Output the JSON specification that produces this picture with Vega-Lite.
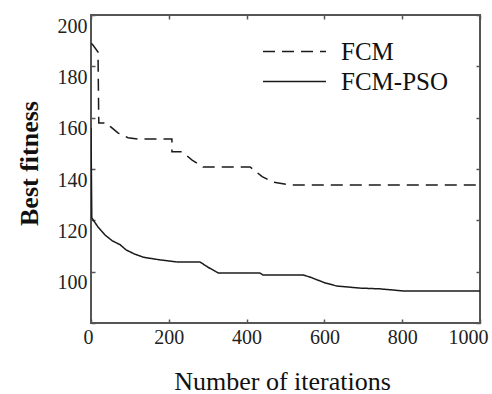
{
  "$schema": "https://vega.github.io/schema/vega-lite/v6.json",
  "width": 389,
  "height": 308,
  "autosize": "none",
  "padding": {"left": 91, "top": 15, "right": 12, "bottom": 71},
  "background": "white",
  "config": {
    "view": {"stroke": "#555555", "strokeWidth": 2},
    "font": "Liberation Serif",
    "axis": {"grid": false, "domain": false, "tickColor": "#555555", "tickWidth": 1.5, "tickSize": -4, "labelFont": "Liberation Serif", "titleFont": "Liberation Serif", "labelColor": "#222222", "titleColor": "#111111"}
  },
  "data": {
    "values": [
      {"iter": 0, "fit": 189, "method": "FCM"},
      {"iter": 4, "fit": 188.5, "method": "FCM"},
      {"iter": 18, "fit": 185.6, "method": "FCM"},
      {"iter": 20, "fit": 157.9, "method": "FCM"},
      {"iter": 41, "fit": 157.9, "method": "FCM"},
      {"iter": 50, "fit": 156.5, "method": "FCM"},
      {"iter": 70, "fit": 154, "method": "FCM"},
      {"iter": 95, "fit": 152.2, "method": "FCM"},
      {"iter": 120, "fit": 151.7, "method": "FCM"},
      {"iter": 208, "fit": 151.7, "method": "FCM"},
      {"iter": 208, "fit": 146.7, "method": "FCM"},
      {"iter": 234, "fit": 146.7, "method": "FCM"},
      {"iter": 260, "fit": 143.5, "method": "FCM"},
      {"iter": 288, "fit": 140.8, "method": "FCM"},
      {"iter": 409, "fit": 140.8, "method": "FCM"},
      {"iter": 420, "fit": 139.5, "method": "FCM"},
      {"iter": 440, "fit": 137, "method": "FCM"},
      {"iter": 468, "fit": 134.9, "method": "FCM"},
      {"iter": 512, "fit": 133.8, "method": "FCM"},
      {"iter": 1000, "fit": 133.8, "method": "FCM"},
      {"iter": 0, "fit": 156, "method": "FCM-PSO"},
      {"iter": 2, "fit": 121, "method": "FCM-PSO"},
      {"iter": 18, "fit": 117.4, "method": "FCM-PSO"},
      {"iter": 36, "fit": 114.3, "method": "FCM-PSO"},
      {"iter": 55, "fit": 112, "method": "FCM-PSO"},
      {"iter": 75, "fit": 110.5, "method": "FCM-PSO"},
      {"iter": 90, "fit": 108.5, "method": "FCM-PSO"},
      {"iter": 110, "fit": 107, "method": "FCM-PSO"},
      {"iter": 135, "fit": 105.6, "method": "FCM-PSO"},
      {"iter": 177, "fit": 104.6, "method": "FCM-PSO"},
      {"iter": 221, "fit": 103.8, "method": "FCM-PSO"},
      {"iter": 280, "fit": 103.8, "method": "FCM-PSO"},
      {"iter": 300, "fit": 101.8, "method": "FCM-PSO"},
      {"iter": 327, "fit": 99.5, "method": "FCM-PSO"},
      {"iter": 434, "fit": 99.5, "method": "FCM-PSO"},
      {"iter": 442, "fit": 98.7, "method": "FCM-PSO"},
      {"iter": 545, "fit": 98.7, "method": "FCM-PSO"},
      {"iter": 563, "fit": 97.9, "method": "FCM-PSO"},
      {"iter": 602, "fit": 95.6, "method": "FCM-PSO"},
      {"iter": 632, "fit": 94.4, "method": "FCM-PSO"},
      {"iter": 692, "fit": 93.6, "method": "FCM-PSO"},
      {"iter": 743, "fit": 93.3, "method": "FCM-PSO"},
      {"iter": 802, "fit": 92.5, "method": "FCM-PSO"},
      {"iter": 1000, "fit": 92.5, "method": "FCM-PSO"}
    ]
  },
  "layer": [
    {
      "mark": {"type": "line", "color": "#1a1a1a", "strokeWidth": 1.5, "clip": true},
      "encoding": {
        "x": {"field": "iter", "type": "quantitative", "scale": {"domain": [0, 1000], "nice": false},
          "axis": {"values": [0, 200, 400, 600, 800, 1000], "format": "d", "title": "Number of iterations", "labelFontSize": 20, "labelPadding": 8, "labelFlush": true, "labelFlushOffset": 8, "titleFontSize": 26, "titleFontWeight": "normal", "titleX": 191, "titleY": 66, "titleBaseline": "alphabetic"}},
        "y": {"field": "fit", "type": "quantitative", "scale": {"domain": [80, 200], "nice": false, "zero": false},
          "axis": {"values": [80, 100, 120, 140, 160, 180, 200], "labelExpr": "datum.value == 80 ? '' : datum.label", "title": "Best fitness", "labelFontSize": 20, "labelPadding": 8, "labelOffset": 11, "titleFontSize": 26, "titleFontWeight": "bold", "titleX": -54, "titleY": 148, "titleBaseline": "alphabetic"}},
        "strokeDash": {"field": "method", "type": "nominal",
          "scale": {"domain": ["FCM", "FCM-PSO"], "range": [[12, 7], [1, 0]]},
          "legend": {"title": null, "orient": "none", "legendX": 187, "legendY": 20, "padding": 0, "symbolType": "M-2,0H2", "symbolSize": 992, "symbolStrokeWidth": 1.5, "symbolStrokeColor": "#1a1a1a", "symbolFillColor": "transparent", "labelFont": "Liberation Serif", "labelFontSize": 25, "labelColor": "#111111", "labelOffset": 30, "rowPadding": -3,
            "encode": {"symbols": {"update": {"strokeDash": {"signal": "datum.value === 'FCM' ? [7, 4] : [1, 0]"}}}}}
        }
      }
    },
    {
      "mark": {"type": "point", "opacity": 0},
      "encoding": {
        "x": {"field": "iter", "type": "quantitative", "axis": {"orient": "top", "values": [0, 200, 400, 600, 800, 1000], "labels": false, "title": null}},
        "y": {"field": "fit", "type": "quantitative", "axis": {"orient": "right", "values": [80, 100, 120, 140, 160, 180, 200], "labels": false, "title": null}}
      }
    }
  ],
  "resolve": {"axis": {"x": "independent", "y": "independent"}}
}
